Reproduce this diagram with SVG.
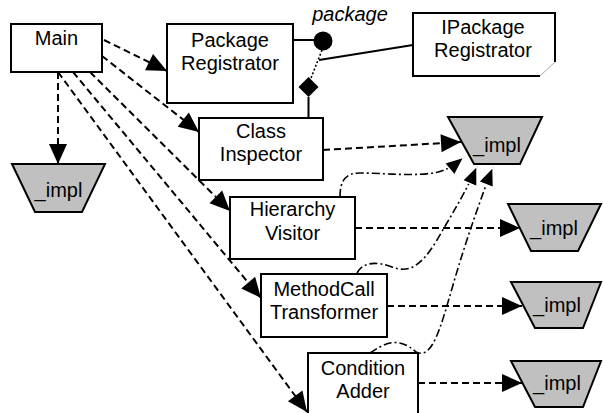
<svg xmlns="http://www.w3.org/2000/svg" width="603" height="413" viewBox="0 0 603 413">
<style>
.box{fill:#fff;stroke:#000;stroke-width:2}
.impl{fill:#c0c0c0;stroke:#000;stroke-width:2}
.t{font-family:"Liberation Sans",Arial,sans-serif;font-size:20px;fill:#000;text-anchor:middle}
.it{font-family:"Liberation Sans",Arial,sans-serif;font-size:20px;font-style:italic;fill:#000;text-anchor:middle}
.dash{fill:none;stroke:#000;stroke-width:2;stroke-dasharray:7 4}
.dd{fill:none;stroke:#000;stroke-width:1.6;stroke-dasharray:8 3 2 3}
.solid{fill:none;stroke:#000;stroke-width:2}
</style>
<defs>
<marker id="ah" markerUnits="userSpaceOnUse" markerWidth="22" markerHeight="20" refX="20" refY="9" orient="auto" viewBox="-1 -1 22 20">
<path d="M0,0 L20,9 L0,18 Z" fill="#000"/>
</marker>
<marker id="ahw" markerUnits="userSpaceOnUse" markerWidth="24" markerHeight="22" refX="19" refY="9" orient="auto" viewBox="-2 -2 24 22">
<path d="M0,1 L19,9 L0,17 Z" fill="#000" stroke="#fff" stroke-width="1.5"/>
</marker>
</defs>
<rect width="603" height="413" fill="#fff"/>
<g id="connectors">
<line class="dash" x1="104" y1="40" x2="167" y2="71" marker-end="url(#ah)"/>
<line class="dash" x1="102" y1="56" x2="199" y2="132" marker-end="url(#ah)"/>
<line class="dash" x1="58" y1="72" x2="58" y2="164" marker-end="url(#ah)"/>
<line class="dash" x1="90" y1="72" x2="230" y2="211" marker-end="url(#ah)"/>
<line class="dash" x1="73" y1="72" x2="261" y2="298" marker-end="url(#ah)"/>
<line class="dash" x1="58" y1="72" x2="307" y2="412" marker-end="url(#ah)"/>
<line class="dash" x1="323" y1="150" x2="461" y2="142" marker-end="url(#ah)"/>
<line class="dash" x1="355" y1="228" x2="520" y2="228" marker-end="url(#ah)"/>
<line class="dash" x1="387" y1="306" x2="522" y2="306" marker-end="url(#ah)"/>
<line class="dash" x1="418" y1="383" x2="522" y2="383" marker-end="url(#ah)"/>
<path class="dd" d="M340,197 C340,180 346,173 360,173 C385,173 415,177 438,172 C450,169 458,162 464,157" marker-end="url(#ahw)"/>
<path class="dd" d="M357,273 C363,262 376,261 392,267 C408,273 420,268 437,240 C452,214 467,190 477,166" marker-end="url(#ahw)"/>
<path class="dd" d="M370,353 C385,343 398,336 416,352 C432,360 440,330 453,285 C466,240 482,195 493,167" marker-end="url(#ahw)"/>
<line class="solid" x1="293" y1="40" x2="316" y2="40"/>
<line class="solid" x1="413" y1="45" x2="319" y2="60"/>
<line fill="none" stroke="#000" stroke-width="1.6" stroke-dasharray="2 2" x1="322" y1="50" x2="311" y2="78"/>
<line class="solid" x1="308.5" y1="97" x2="308.5" y2="118"/>
<circle cx="323" cy="41" r="9.5" fill="#000"/>
<path d="M308.5,77 L318.5,87 L308.5,97 L298.5,87 Z" fill="#000"/>
</g>
<g id="main">
<rect class="box" x="11" y="24" width="91" height="48"/>
<text class="t" x="56.5" y="45">Main</text>
</g>
<g id="packageRegistrator">
<rect class="box" x="167" y="24" width="126" height="79"/>
<text class="t" x="230" y="47">Package</text>
<text class="t" x="230" y="70">Registrator</text>
</g>
<g id="packageLabel">
<text class="it" x="350" y="21">package</text>
</g>
<g id="iPackageRegistrator">
<path d="M540,76 H413 V13 H555 V62" fill="#fff" stroke="#000" stroke-width="2"/>
<path d="M555,62 L540,76" fill="none" stroke="#aaa" stroke-width="1"/>
<text class="t" x="483" y="34">IPackage</text>
<text class="t" x="483" y="57">Registrator</text>
</g>
<g id="classInspector">
<rect class="box" x="199" y="118" width="124" height="62"/>
<text class="t" x="261" y="138">Class</text>
<text class="t" x="261" y="161">Inspector</text>
</g>
<g id="hierarchyVisitor">
<rect class="box" x="230" y="197" width="125" height="62"/>
<text class="t" x="292.5" y="216">Hierarchy</text>
<text class="t" x="292.5" y="240">Visitor</text>
</g>
<g id="methodCallTransformer">
<rect class="box" x="261" y="274" width="126" height="63"/>
<text class="t" x="324" y="296">MethodCall</text>
<text class="t" x="324" y="319">Transformer</text>
</g>
<g id="conditionAdder">
<rect class="box" x="308" y="353" width="110" height="72"/>
<text class="t" x="363" y="375">Condition</text>
<text class="t" x="363" y="398">Adder</text>
</g>
<g id="impl0">
<polygon class="impl" points="12,164 105,164 82,212 35,212"/>
<text class="t" x="58.5" y="197">_impl</text>
</g>
<g id="impl1">
<polygon class="impl" points="448,117 542,117 520,164 474,164"/>
<text class="t" x="497" y="152">_impl</text>
</g>
<g id="impl2">
<polygon class="impl" points="508,204 601,204 578,251 531,251"/>
<text class="t" x="554" y="235">_impl</text>
</g>
<g id="impl3">
<polygon class="impl" points="511,282 601,282 583,328 535,328"/>
<text class="t" x="557" y="312">_impl</text>
</g>
<g id="impl4">
<polygon class="impl" points="511,361 601,361 583,407 535,407"/>
<text class="t" x="557" y="390">_impl</text>
</g>
</svg>
